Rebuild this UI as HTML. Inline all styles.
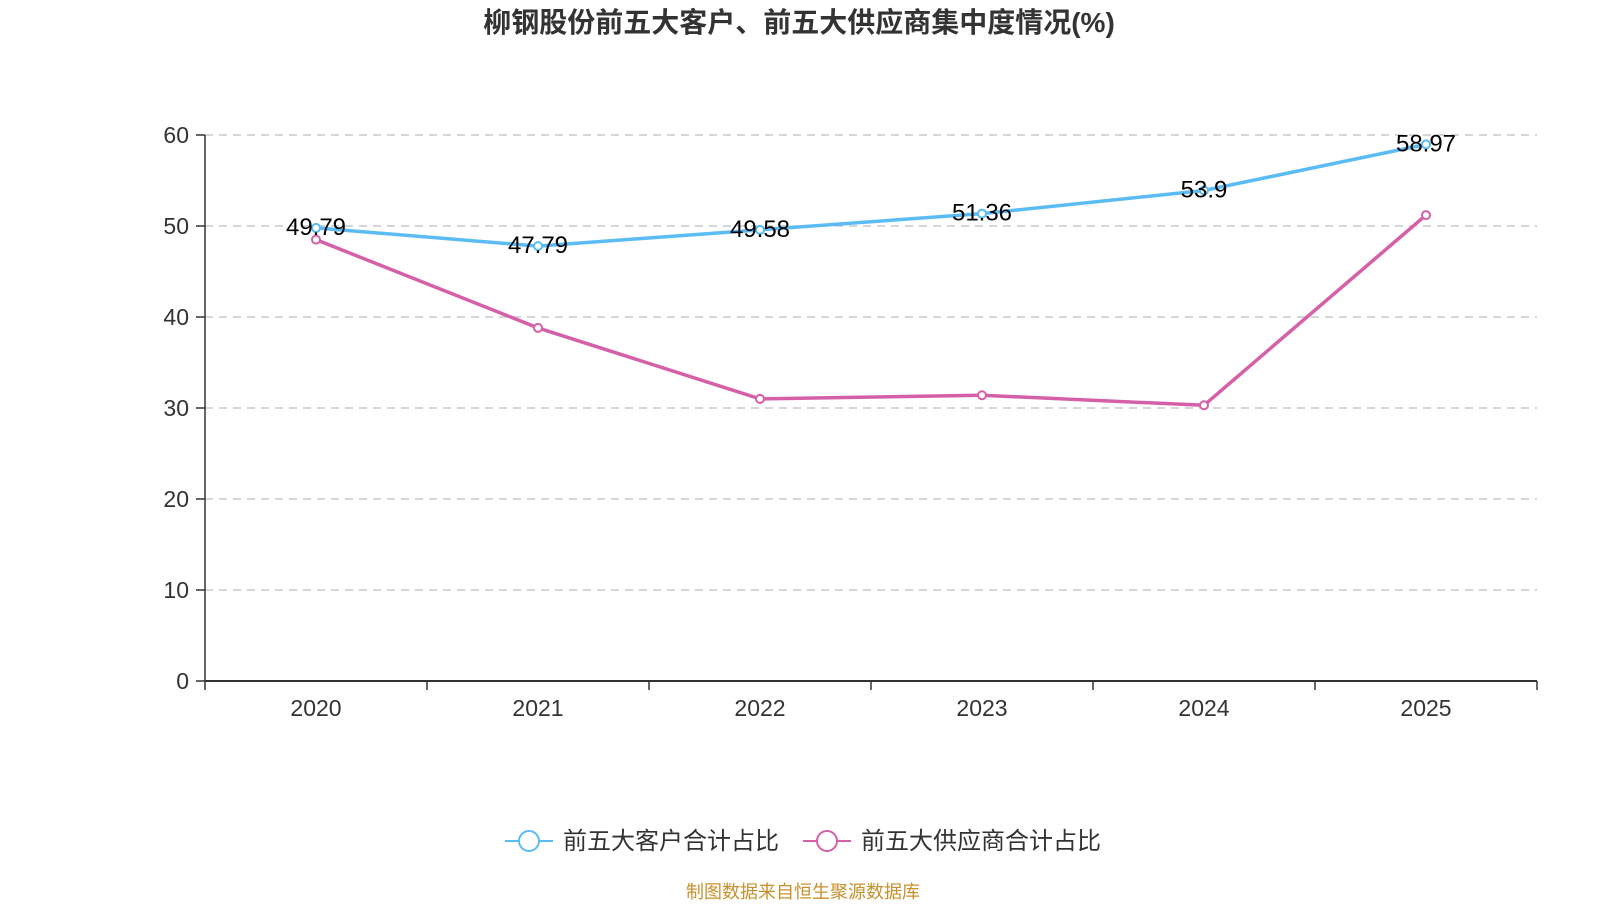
<!DOCTYPE html>
<html><head><meta charset="utf-8"><style>
body{margin:0;background:#fff;width:1600px;height:900px;overflow:hidden;font-family:"Liberation Sans","Noto Sans CJK SC",sans-serif}
</style></head><body>
<svg width="1600" height="900" style="font-family:'Liberation Sans','Noto Sans CJK SC',sans-serif">
<text x="799" y="32" text-anchor="middle" font-size="28" font-weight="bold" fill="#333">柳钢股份前五大客户、前五大供应商集中度情况(%)</text>
<g id="grid"></g><g id="axes"></g><g id="series"></g>
<g>
<g><line x1="505" y1="841" x2="553" y2="841" stroke="#5bbcf5" stroke-width="2"/><circle cx="529" cy="841" r="10" fill="#fff" stroke="#5bbcf5" stroke-width="2"/><text x="563" y="849" font-size="24" fill="#333">前五大客户合计占比</text></g>
<g><line x1="803" y1="841" x2="851" y2="841" stroke="#d660a8" stroke-width="2"/><circle cx="827" cy="841" r="10" fill="#fff" stroke="#d660a8" stroke-width="2"/><text x="861" y="849" font-size="24" fill="#333">前五大供应商合计占比</text></g>
</g>
<text x="803" y="898" text-anchor="middle" font-size="18" fill="#c8902c">制图数据来自恒生聚源数据库</text>
</svg>
<script>
const categories=["2020","2021","2022","2023","2024","2025"];
const customers=[49.79,47.79,49.58,51.36,53.9,58.97];
const suppliers=[48.5,38.8,31.0,31.4,30.3,51.2];
const yTicks=[0,10,20,30,40,50,60];
const NS="http://www.w3.org/2000/svg";
const x0=205,x1=1537,y0=681,yTop=135;
const bw=(x1-x0)/categories.length;
const X=i=>x0+bw*(i+0.5);
const Y=v=>y0-(v/60)*(y0-yTop);
function mk(t,a,p){const e=document.createElementNS(NS,t);for(const k in a)e.setAttribute(k,a[k]);p.appendChild(e);return e;}
const grid=document.getElementById('grid'),axes=document.getElementById('axes'),ser=document.getElementById('series');
yTicks.forEach(v=>{
 if(v>0){const g=mk('line',{x1:x0,x2:x1,y1:Y(v),y2:Y(v),stroke:'#c8c8c8','stroke-width':1.5,'stroke-dasharray':'8,6'},grid);
 
 }
 const t=mk('text',{x:189,y:Y(v)+8,'text-anchor':'end','font-size':23,fill:'#333'},axes);t.textContent=v;
 
 
 mk('line',{x1:x0-9,x2:x0,y1:Y(v),y2:Y(v),stroke:'#333','stroke-width':1.5},axes);
});
const ya=mk('line',{x1:x0,x2:x0,y1:yTop,y2:y0,stroke:'#333','stroke-width':1.5},axes);


const xa=mk('line',{x1:x0,x2:x1,y1:y0,y2:y0,stroke:'#333','stroke-width':2},axes);


for(let i=0;i<=categories.length;i++)mk('line',{x1:x0+bw*i,x2:x0+bw*i,y1:y0,y2:y0+9,stroke:'#333','stroke-width':1.5},axes);
categories.forEach((c,i)=>{const t=mk('text',{x:X(i),y:716,'text-anchor':'middle','font-size':23,fill:'#333'},axes);t.textContent=c;
 
 });
function draw(vals,color,name,labels){
 const p=mk('polyline',{points:vals.map((v,i)=>X(i)+','+Y(v)).join(' '),fill:'none',stroke:color,'stroke-width':3.5},ser);
 
 
 vals.forEach((v,i)=>{const c=mk('circle',{cx:X(i),cy:Y(v),r:4,fill:'#fff',stroke:color,'stroke-width':2},ser);
  
  });
 if(labels)vals.forEach((v,i)=>{const t=mk('text',{x:X(i),y:Y(v)+7,'text-anchor':'middle','font-size':24,fill:'#000'},ser);t.textContent=v;
  
  });
}
draw(suppliers,'#d660a8','suppliers',false);
draw(customers,'#5bbcf5','customers',true);
</script>
</body></html>
